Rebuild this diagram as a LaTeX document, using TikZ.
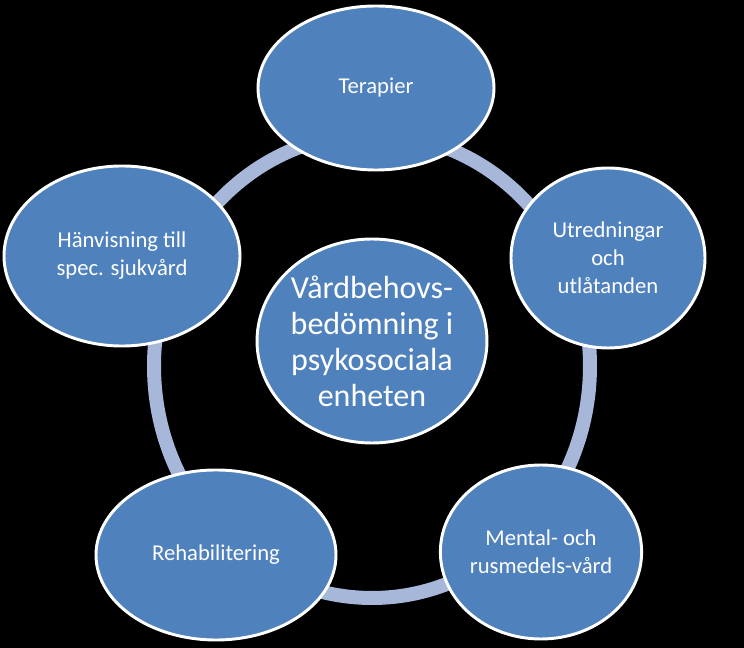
\documentclass[tikz,border=0pt]{standalone}
\usepackage{fontspec}
\setmainfont{Carlito}
\usetikzlibrary{shapes.geometric}
\definecolor{bub}{HTML}{4F81BD}
\definecolor{ring}{HTML}{A7B7D9}
\begin{document}
\begin{tikzpicture}[x=0.75pt,y=-0.75pt,
  bubble/.style={ellipse,fill=bub,draw=white,line width=2.2pt,inner sep=0pt,text=white,align=center,font=\fontsize{17}{21}\selectfont},
  sz/.style 2 args={minimum width=#1*0.75pt,minimum height=#2*0.75pt}]
\fill[black] (0,0) rectangle (744,648);
\useasboundingbox (0,0) rectangle (744,648);
\draw[ring,line width=10.5pt] (372,366) ellipse [x radius=218,y radius=232];
\node[bubble,sz={236}{164}] (t) at (376,88) {Terapier};
\node[bubble,sz={194}{180}] (u) at (608,258) {Utredningar\\och\\utlåtanden};
\node[bubble,sz={200}{174}] (m) at (541,552) {Mental- och\\rusmedels-vård};
\node[bubble,sz={240}{170}] (r) at (216,555) {Rehabilitering};
\node[bubble,sz={236}{180}] (h) at (122,256) {Hänvisning till\\spec. sjukvård};
\node[bubble,sz={204}{204},font=\fontsize{24}{27}\selectfont] (c) at (372,341) {Vårdbehovs-\\bedömning i\\psykosociala\\enheten};
\end{tikzpicture}
\end{document}
